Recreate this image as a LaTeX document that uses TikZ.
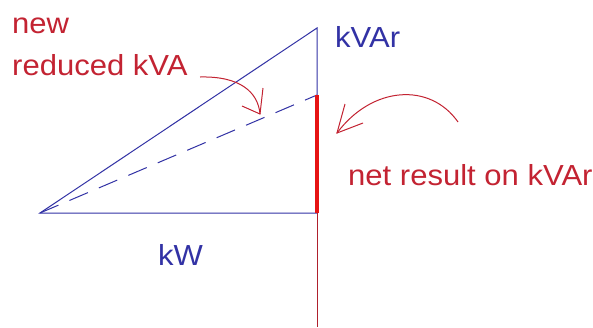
\documentclass[tikz,border=0pt]{standalone}
\usepackage{fontspec}
\setmainfont{Liberation Sans}
\definecolor{lineblue}{RGB}{50,50,165}
\definecolor{txtred}{RGB}{195,35,50}
\definecolor{barred}{RGB}{230,20,20}
\newcommand{\wide}[1]{\scalebox{1.07}[1]{#1}}
\begin{document}
\begin{tikzpicture}[x=1pt,y=-1pt,
  blueline/.style={draw=lineblue,line width=1pt},
  dashline/.style={draw=lineblue,line width=1pt,dash pattern=on 20pt off 12pt},
  redbar/.style={draw=barred,line width=4pt},
  redthin/.style={draw=txtred!90!black,line width=1pt},
  redcurve/.style={draw=txtred,line width=1pt},
  bluetxt/.style={text=lineblue,font=\fontsize{29}{34}\selectfont,anchor=base west,inner sep=0pt},
  redtxt/.style={text=txtred,font=\fontsize{29}{34}\selectfont,anchor=base west,inner sep=0pt}]
\useasboundingbox (0,0) rectangle (593,327);
\fill[white] (0,0) rectangle (593,327);
\coordinate (O) at (40,213);
\coordinate (B) at (317,213);
\coordinate (T) at (317,28);
\coordinate (M) at (317,95);
\coordinate (E) at (317,327);
\draw[blueline] (O) -- (B) -- (T) -- cycle;
\draw[dashline] (O) -- (M);
\draw[redbar] (M) -- (B);
\draw[redthin] (B) -- (E);
\node[bluetxt] (kvar) at (335,47) {\wide{kVAr}};
\node[bluetxt] (kw) at (158,265) {\wide{kW}};
\node[redtxt] (new) at (12,33) {\wide{new}};
\node[redtxt] (red) at (12,75) {\wide{reduced kVA}};
\node[redtxt] (net) at (348,185) {\wide{net result on kVAr}};
% arrow 1
\coordinate (a1s) at (200,77);
\coordinate (a1t) at (260,114);
\draw[redcurve] (a1s) .. controls (240,76) and (258,92) .. (a1t);
\draw[redcurve] (263,88) -- (a1t) -- (242,106);
% arrow 2
\coordinate (a2s) at (458,122);
\coordinate (a2t) at (337,133);
\draw[redcurve] (a2s) .. controls (430,82) and (372,86) .. (a2t);
\draw[redcurve] (345,104) -- (a2t) -- (363,123);
\end{tikzpicture}
\end{document}
